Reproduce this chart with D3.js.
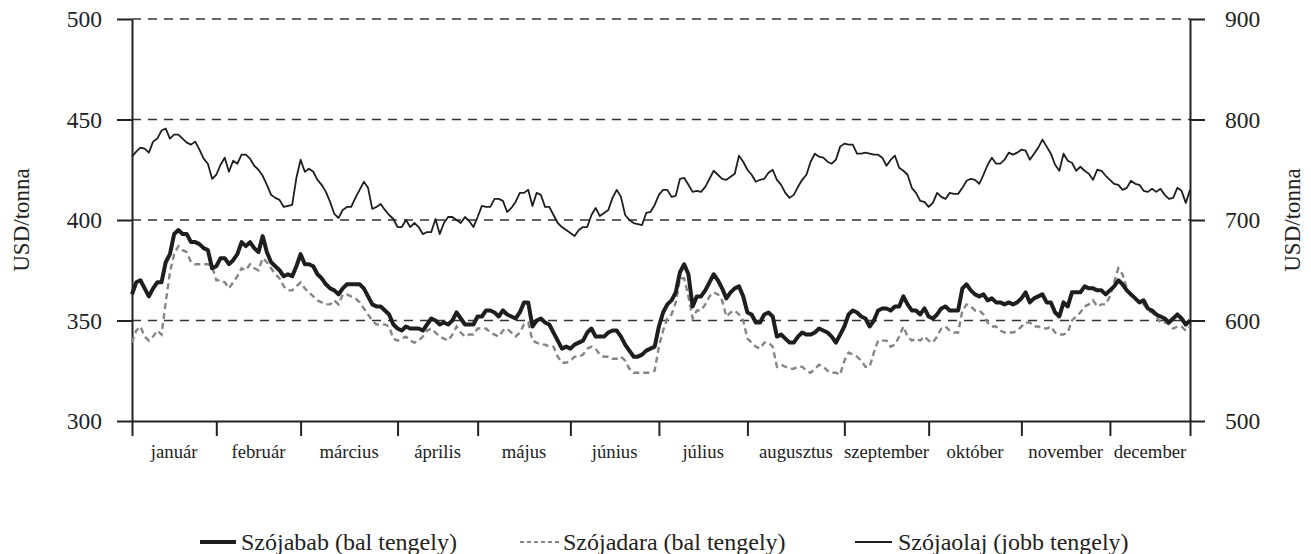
<!DOCTYPE html>
<meta charset="utf-8">
<style>
body{ margin:0; background:#fff; }
svg text{ font-family:"Liberation Serif","Times New Roman",serif; fill:#222; }
</style>
<body>
<div id="chart"></div>
<script src="https://cdn.jsdelivr.net/npm/d3@7"></script>
<script>

var months = ['január','február','március','április','május','június','július','augusztus','szeptember','október','november','december'],
    monthDays = [20,20,23,19,22,21,21,23,20,22,21,20]

var leftTicks = [300,350,400,450,500],
    rightTicks = [500,600,700,800,900],
    gridTicks = [350,400,450,500]

// Szójabab, USD/tonna (bal tengely)
var bean = [363,369,370,366,362,366,369,369,379,383,
  393,395,393,393,389,389,388,386,385,376,
  377,381,381,378,380,383,389,387,389,386,
  384,392,384,379,377,375,372,373,372,377,
  383,378,378,377,373,371,368,366,365,363,
  366,368,368,368,368,366,362,358,357,357,
  355,353,348,346,345,347,346,346,346,345,
  348,351,350,348,349,348,350,354,351,348,
  348,348,352,352,355,355,354,352,355,353,
  352,351,354,359,359,347,350,351,349,348,
  344,340,336,337,336,338,339,340,344,346,
  342,342,342,344,345,345,342,338,335,332,
  332,333,335,336,337,347,354,358,360,364,
  374,378,373,357,362,362,365,369,373,370,
  366,361,364,366,367,362,354,353,349,349,
  353,354,352,342,343,341,339,339,342,344,
  343,343,344,346,345,344,342,339,343,347,
  353,355,354,352,351,347,350,355,356,356,
  355,357,357,362,358,355,355,353,356,352,
  351,353,356,357,355,355,355,366,368,365,
  363,362,363,360,361,359,359,358,359,358,
  359,361,364,359,361,362,363,359,359,354,
  352,359,357,364,364,364,367,366,366,365,
  365,363,365,367,370,368,365,363,361,359,
  360,356,355,353,352,351,349,351,353,351,348,350]

// Szójadara, USD/tonna (bal tengely)
var meal = [339,345,347,342,340,342,345,343,359,374,
  383,387,385,384,379,378,378,378,378,377,
  370,370,369,366,369,372,376,375,378,376,
  375,381,379,376,373,371,367,365,365,367,
  369,366,364,362,360,359,358,358,360,358,
  363,363,362,361,359,356,353,350,348,348,
  348,347,341,340,341,342,340,339,340,342,
  345,346,344,342,341,340,343,347,344,342,
  343,343,346,346,346,344,343,342,345,346,
  344,342,344,348,349,340,339,338,338,337,
  337,332,329,329,330,332,332,333,336,337,
  336,333,332,332,331,331,332,330,326,324,
  324,324,324,324,325,337,345,351,353,359,
  371,371,362,351,355,355,358,362,364,363,
  360,352,354,355,353,350,341,339,337,336,
  339,339,337,327,328,327,326,326,327,327,
  325,324,326,328,327,325,324,324,323,330,
  334,333,332,330,327,327,334,340,340,340,
  337,338,342,347,342,340,341,340,342,340,
  339,342,346,347,345,344,344,355,358,357,
  355,355,353,349,347,347,345,344,344,344,
  345,347,349,349,347,347,346,346,347,344,
  343,343,344,350,352,354,357,358,360,357,
  358,358,362,369,376,373,366,362,361,359,
  358,355,354,352,349,349,348,346,347,347,345,347]

// Szójaolaj, USD/tonna (jobb tengely)
var oil = [763,768,772,771,767,778,781,789,791,781,
  785,785,781,777,775,778,770,761,756,741,
  745,755,762,748,759,756,765,765,761,754,
  750,744,735,725,722,720,713,714,715,742,
  760,748,751,748,740,735,728,718,706,702,
  710,713,713,722,730,738,732,711,713,716,
  710,705,701,693,693,700,693,697,693,686,
  688,688,701,686,697,703,703,700,697,703,
  699,693,703,714,713,713,721,721,719,708,
  712,718,727,727,730,714,727,725,713,713,
  705,697,693,690,687,684,690,693,693,705,
  712,704,707,710,722,730,723,705,700,697,
  696,695,707,708,715,725,730,730,723,724,
  741,742,735,728,729,728,733,741,749,745,
  741,740,743,746,764,758,750,745,738,740,
  741,747,750,740,735,727,722,725,733,740,
  745,758,766,763,762,758,756,760,773,776,
  775,775,766,766,767,766,765,765,762,754,
  760,764,752,749,745,732,727,719,718,713,
  717,727,723,721,727,726,726,732,739,741,
  740,736,745,755,762,756,756,760,767,765,
  767,770,769,760,766,772,780,773,766,755,
  749,766,759,757,749,753,749,746,740,750,
  749,744,740,736,735,730,732,739,736,735,
  729,728,731,728,731,725,721,722,732,729,717,730]

var legendItems = ['Szójabab (bal tengely)','Szójadara (bal tengely)','Szójaolaj (jobb tengely)']

var W = 1311, H = 554,
    x0 = 132, x1 = 1190, yTop = 19, yBot = 421

var svg = d3.select('#chart').append('svg')
    .attr('width', W).attr('height', H)

var n = bean.length
var x = d3.scaleLinear().domain([0, n - 1]).range([x0, x1])
var yL = d3.scaleLinear().domain([300, 500]).range([yBot, yTop])
var yR = d3.scaleLinear().domain([500, 900]).range([yBot, yTop])

// dashed grid
svg.append('g').selectAll('line').data(gridTicks).join('line')
    .attr('x1', x0).attr('x2', x1)
    .attr('y1', d => yL(d)).attr('y2', d => yL(d))
    .attr('stroke', '#333').attr('stroke-width', 1.5)
    .attr('stroke-dasharray', '9,7')

// month ticks
var starts = [0]
monthDays.forEach((d, i) => starts.push(starts[i] + d))
var tickIdx = starts.map(d => Math.min(d, n - 1))

var xAxis = svg.append('g').attr('transform', 'translate(0,' + yBot + ')')
    .call(d3.axisBottom(x).tickValues(tickIdx).tickFormat('').tickSize(15).tickSizeOuter(0))
xAxis.select('.domain').attr('stroke', '#222').attr('stroke-width', 2)
xAxis.selectAll('.tick line').attr('stroke', '#222').attr('stroke-width', 2)

svg.append('g').selectAll('text').data(months).join('text')
    .attr('x', (d, i) => (x(tickIdx[i]) + x(tickIdx[i + 1])) / 2)
    .attr('y', 458)
    .attr('text-anchor', 'middle')
    .style('font-size', '18.7px')
    .text(d => d)

var lAxis = svg.append('g').attr('transform', 'translate(' + x0 + ',0)')
    .call(d3.axisLeft(yL).tickValues(leftTicks).tickSize(15).tickPadding(15).tickSizeOuter(0))
var rAxis = svg.append('g').attr('transform', 'translate(' + x1 + ',0)')
    .call(d3.axisRight(yR).tickValues(rightTicks).tickSize(15).tickPadding(20).tickSizeOuter(0))

;[lAxis, rAxis].forEach(function(a){
  a.select('.domain').attr('stroke', '#222').attr('stroke-width', 2)
  a.selectAll('.tick line').attr('stroke', '#222').attr('stroke-width', 2)
  a.selectAll('.tick text').style('font-size', '23.5px')
      .style('font-family', '"Liberation Serif","Times New Roman",serif').attr('fill', '#222')
})

svg.append('text').attr('transform', 'translate(29,220) rotate(-90)')
    .attr('text-anchor', 'middle').style('font-size', '23px').text('USD/tonna')
svg.append('text').attr('transform', 'translate(1300,220) rotate(-90)')
    .attr('text-anchor', 'middle').style('font-size', '23px').text('USD/tonna')

// lines
var lineL = d3.line().x((d, i) => x(i)).y(d => yL(d))
var lineR = d3.line().x((d, i) => x(i)).y(d => yR(d))

svg.append('path').datum(meal).attr('d', lineL)
    .attr('fill', 'none').attr('stroke', '#858585').attr('stroke-width', 2.4)
    .attr('stroke-dasharray', '6,4')
svg.append('path').datum(oil).attr('d', lineR)
    .attr('fill', 'none').attr('stroke', '#1e1e1e').attr('stroke-width', 1.8)
    .attr('stroke-linejoin', 'round')
svg.append('path').datum(bean).attr('d', lineL)
    .attr('fill', 'none').attr('stroke', '#1e1e1e').attr('stroke-width', 4)
    .attr('stroke-linejoin', 'round')

// legend
var leg = [
  {x1: 200, x2: 236, tx: 241, stroke: '#1e1e1e', w: 4, dash: null},
  {x1: 520, x2: 560, tx: 563, stroke: '#858585', w: 2, dash: '4,3'},
  {x1: 855, x2: 892, tx: 898, stroke: '#1e1e1e', w: 1.8, dash: null}
]
leg.forEach(function(l, i){
  svg.append('line').attr('x1', l.x1).attr('x2', l.x2).attr('y1', 542).attr('y2', 542)
      .attr('stroke', l.stroke).attr('stroke-width', l.w).attr('stroke-dasharray', l.dash)
  svg.append('text').attr('x', l.tx).attr('y', 550).style('font-size', '24px').text(legendItems[i])
})

</script>
</body>
